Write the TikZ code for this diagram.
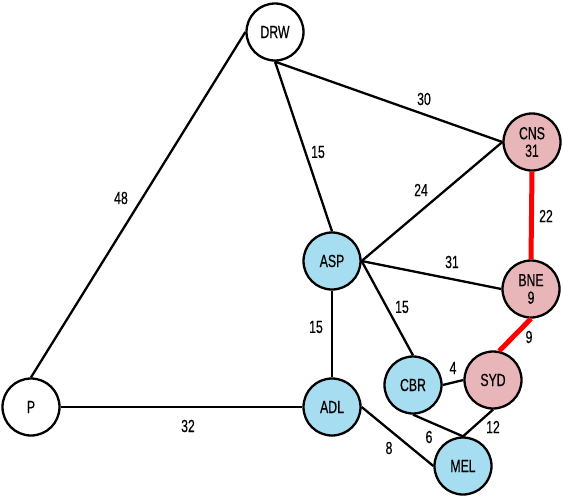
\documentclass[tikz,border=0pt]{standalone}
\usepackage{fontspec}
\setmainfont[FakeStretch=0.7,FakeBold=0.4]{Liberation Sans}
\begin{document}
\begin{tikzpicture}[x=1pt,y=-1pt,
  city/.style={circle,draw=black,line width=2.3pt,minimum size=57pt,inner sep=0pt,
    font=\fontsize{17.5}{18.5}\selectfont,align=center},
  plain/.style={city,fill=white},
  blue/.style={city,fill=bluec},
  pink/.style={city,fill=pinkc},
  edge/.style={line width=2.3pt,black},
  hot/.style={line width=5pt,red},
  lbl/.style={font=\fontsize{17.5}{18.5}\selectfont,inner sep=1pt}]
\definecolor{pinkc}{RGB}{232,181,184}
\definecolor{bluec}{RGB}{167,221,240}
\useasboundingbox (0,0) rectangle (563,496);
\node[plain] (DRW) at (275,32) {DRW};
\node[pink]  (CNS) at (532,142) {CNS\\[-1pt]31};
\node[blue]  (ASP) at (332,261) {ASP};
\node[pink]  (BNE) at (531,289) {BNE\\[-1pt]9};
\node[plain] (P)   at (31,407) {P};
\node[blue]  (ADL) at (332,407) {ADL};
\node[blue]  (CBR) at (413,385) {CBR};
\node[pink]  (SYD) at (493,380) {SYD};
\node[blue]  (MEL) at (463,466) {MEL};
\draw[edge] (DRW.west) -- (P.north);
\draw[edge] (DRW.south) -- (CNS.west);
\draw[edge] (DRW.south) -- (ASP.north);
\draw[edge] (CNS.west) -- (ASP.east);
\draw[hot]  (CNS.south) -- (BNE.north);
\draw[edge] (ASP.east) -- (BNE.west);
\draw[edge] (ASP.east) -- (CBR.north);
\draw[edge] (ASP.south) -- (ADL.north);
\draw[hot]  (BNE.south) -- (SYD.78);
\draw[edge] (CBR.east) -- (SYD.west);
\draw[edge] (CBR.south) -- (MEL.north);
\draw[edge] (SYD.south) -- (MEL.north);
\draw[edge] (ADL.east) -- (MEL.west);
\draw[edge] (P.east) -- (ADL.west);
\node[lbl] (l48) at (121,198) {48};
\node[lbl] (l30) at (424,99) {30};
\node[lbl] (l15a) at (318,152) {15};
\node[lbl] (l24) at (421,190) {24};
\node[lbl] (l22) at (546,216) {22};
\node[lbl] (l31) at (452,262) {31};
\node[lbl] (l15b) at (402,307) {15};
\node[lbl] (l15c) at (316,327) {15};
\node[lbl] (l9) at (529,337) {9};
\node[lbl] (l4) at (453,368) {4};
\node[lbl] (l12) at (493,427) {12};
\node[lbl] (l6) at (429,437) {6};
\node[lbl] (l8) at (389,448) {8};
\node[lbl] (l32) at (188,426) {32};
\end{tikzpicture}
\end{document}
